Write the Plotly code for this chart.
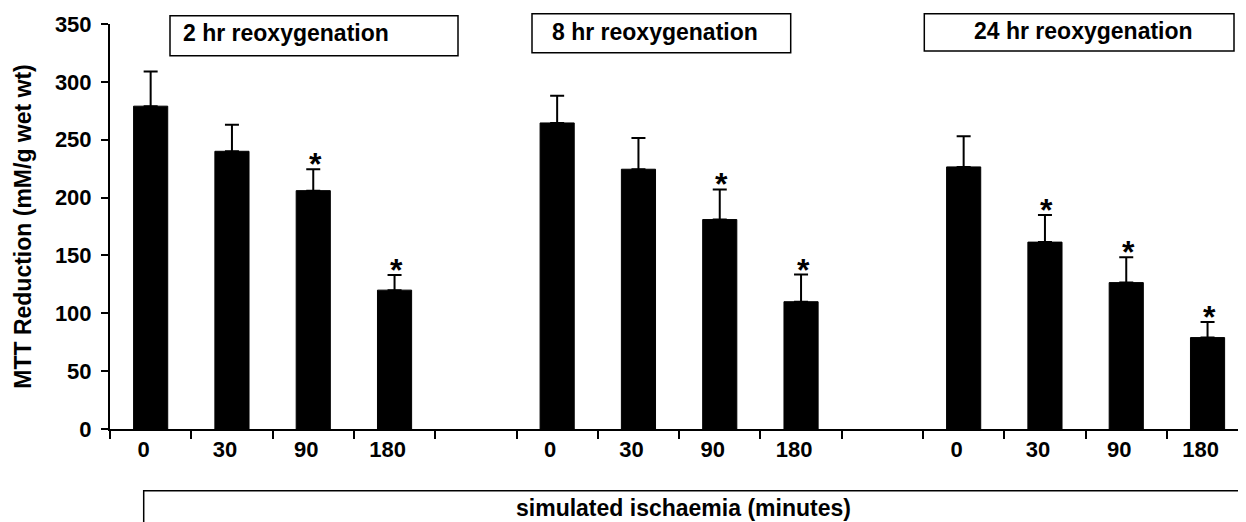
import plotly.graph_objects as go

# ---- data ----
ischaemia_minutes = ["0", "30", "90", "180"]
reoxygenation_groups = ["2 hr reoxygenation", "8 hr reoxygenation", "24 hr reoxygenation"]
mtt_2hr = [279, 240, 206, 120]
mtt_8hr = [264.5, 224.5, 181, 110]
mtt_24hr = [226.5, 161.5, 126.5, 79]
sem_2hr = [30, 23, 18.5, 13]
sem_8hr = [23.5, 27, 26, 23.5]
sem_24hr = [26.5, 23.5, 22, 13.5]
sig_2hr = [False, False, True, True]
sig_8hr = [False, False, True, True]
sig_24hr = [False, True, True, True]

means = [mtt_2hr, mtt_8hr, mtt_24hr]
sems = [sem_2hr, sem_8hr, sem_24hr]
sigs = [sig_2hr, sig_8hr, sig_24hr]

# ---- layout geometry (pixels of the final 1246x522 picture) ----
PAGE_OFF = 8                      # default body margin of the html page
FIG_W, FIG_H = 1246 - PAGE_OFF, 522 - PAGE_OFF
AX_L, AX_T, AX_B = 110, 24, 429   # y-axis x, top (350) and bottom (0) in picture px
ML, MT = AX_L - PAGE_OFF, AX_T - PAGE_OFF
MB = FIG_H - (AX_B - PAGE_OFF)
PW = FIG_W - ML
PH = AX_B - AX_T
SLOT_PX = 81.3
SLOTS_PER_GROUP = 5
FONT = "Liberation Sans, Arial, sans-serif"


def px_x(p):
    return (p - AX_L) / PW


def px_y(p):
    return (AX_B - p) / PH


def bold(size):
    return dict(family=FONT, size=size, color="black", weight="bold")


fig = go.Figure()
tickvals, ticktext = [], []
annotations = []
for g, name in enumerate(reoxygenation_groups):
    xs = [SLOTS_PER_GROUP * g + i for i in range(len(ischaemia_minutes))]
    tickvals += xs
    ticktext += ischaemia_minutes
    fig.add_trace(go.Bar(
        x=xs, y=means[g], name=name, width=0.42,
        marker=dict(color="black", line=dict(color="black", width=1)),
        error_y=dict(type="data", array=sems[g], arrayminus=[0] * len(xs),
                     symmetric=False, color="black", thickness=2, width=7),
        showlegend=False,
    ))
    for x, m, s, flag in zip(xs, means[g], sems[g], sigs[g]):
        if flag:
            annotations.append(dict(
                x=x, y=m + s, xref="x", yref="y", text="*", showarrow=False,
                yanchor="bottom", yshift=-15, xshift=2, font=bold(32),
            ))

# group title boxes
boxes = [  # (left, right, top, bottom, text-left, text-mid) in picture px
    (170, 458, 15.7, 55.7, 181, 33),
    (532, 790.7, 13.7, 52.7, 550, 31.7),
    (924.3, 1234, 13.7, 51, 971.7, 31),
]
shapes = []
for (x0, x1, y0, y1, tx, ty), name in zip(boxes, reoxygenation_groups):
    shapes.append(dict(type="rect", xref="paper", yref="paper",
                       x0=px_x(x0), x1=px_x(x1), y0=px_y(y1), y1=px_y(y0),
                       line=dict(color="black", width=1.5), fillcolor="white"))
    annotations.append(dict(x=px_x(tx), y=px_y(ty), xref="paper", yref="paper",
                            text=name, showarrow=False, xanchor="left", yanchor="middle",
                            font=bold(23)))

# bottom bracket box
shapes.append(dict(type="rect", xref="paper", yref="paper",
                   x0=px_x(143.7), x1=px_x(1300), y0=px_y(560), y1=px_y(490.7),
                   line=dict(color="black", width=1.5)))
annotations.append(dict(x=px_x(683), y=px_y(508), xref="paper", yref="paper",
                        text="simulated ischaemia (minutes)", showarrow=False,
                        xanchor="center", yanchor="middle", font=bold(23)))

n_slots = SLOTS_PER_GROUP * len(reoxygenation_groups) - 1
boundaries = [i - 0.5 for i in range(n_slots)]
x_right = -0.5 + PW / SLOT_PX

fig.update_layout(
    width=FIG_W, height=FIG_H, autosize=False,
    margin=dict(l=ML, r=0, t=MT, b=MB, pad=0),
    paper_bgcolor="white", plot_bgcolor="white",
    barmode="overlay",
    font=bold(22),
    xaxis=dict(range=[-0.5, x_right], showgrid=False, zeroline=False,
               showline=True, linecolor="black", linewidth=2,
               tickvals=tickvals, ticktext=ticktext, ticks="",
               ticklabelshift=-7, ticklabelstandoff=0,
               tickfont=bold(22),
               minor=dict(tickvals=boundaries, ticks="outside", ticklen=8,
                          tickwidth=2, tickcolor="black")),
    yaxis=dict(range=[0, 350], showgrid=False, zeroline=False,
               showline=True, linecolor="black", linewidth=2,
               tickvals=[0, 50, 100, 150, 200, 250, 300, 350],
               ticks="outside", ticklen=7, tickwidth=2, tickcolor="black",
               ticklabelstandoff=5,
               tickfont=bold(22),
               title=dict(text="MTT Reduction (mM/g wet wt)", standoff=17,
                          font=bold(23))),
    shapes=shapes,
    annotations=annotations,
)

fig.write_html("out.html")
